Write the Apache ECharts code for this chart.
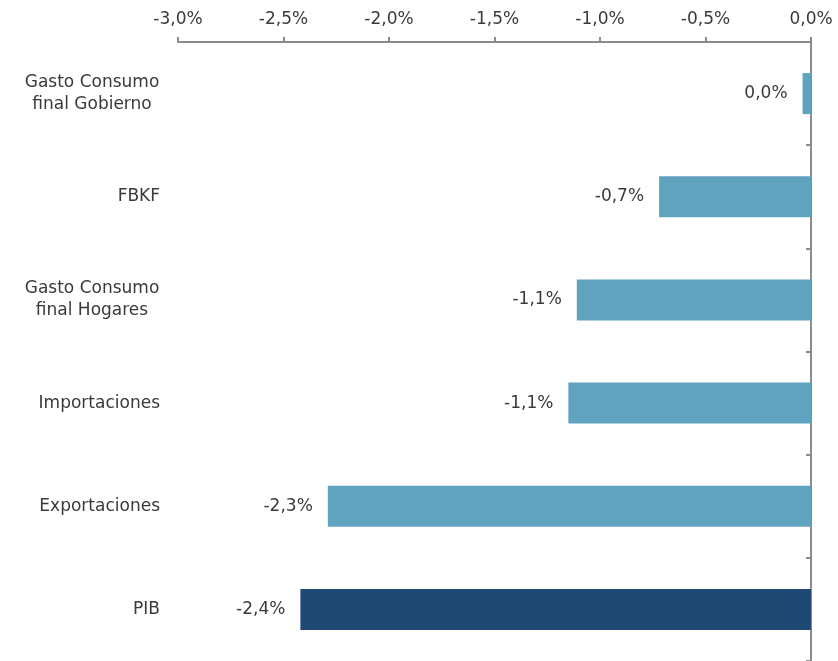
<!DOCTYPE html>
<html>
<head>
<meta charset="utf-8">
<script src="https://cdn.jsdelivr.net/npm/echarts@6/dist/echarts.min.js"></script>
<style>
    html, body { margin: 0; padding: 0; background: #fff; }
    #chart { width: 838px; height: 661px; }
</style>
</head>
<body>
<div id="chart"></div>
<script>
// componentes del PIB (de arriba a abajo)
var categorias = ['Gasto Consumo\nfinal Gobierno', 'FBKF', 'Gasto Consumo\nfinal Hogares', 'Importaciones', 'Exportaciones', 'PIB'];
var valores = [-0.04, -0.72, -1.11, -1.15, -2.29, -2.42];
var colores = ['#5fa3bf', '#5fa3bf', '#5fa3bf', '#5fa3bf', '#5fa3bf', '#1f4873'];

function pct(v) {
    var r = Math.round(v * 10) / 10;
    return r.toFixed(1).replace('.', ',') + '%';
}

var myChart = echarts.init(document.getElementById('chart'));

var font = 'DejaVu Sans';
var txt = '#3a3a3a';
var option = {
    animation: false,
    grid: {
        left: 178,
        right: 27,
        top: 42,
        bottom: -1
    },
    xAxis: {
        type: 'value',
        position: 'top',
        min: -3,
        max: 0,
        interval: 0.5,
        splitLine: { show: false },
        axisLine: { show: true, lineStyle: { color: '#8c8c8c', width: 2 } },
        axisTick: { show: true, length: 5, lineStyle: { color: '#8c8c8c', width: 2 } },
        axisLabel: {
            margin: 14,
            color: txt,
            fontFamily: font,
            fontSize: 17,
            formatter: function (v) { return pct(v); }
        }
    },
    yAxis: [
        {
            type: 'category',
            inverse: true,
            data: categorias,
            position: 'left',
            axisLine: { show: false },
            axisTick: { show: false },
            axisLabel: {
                margin: 18,
                color: txt,
                fontFamily: font,
                fontSize: 17,
                lineHeight: 22,
                align: 'right',
                // lineas centradas entre si en las etiquetas de dos lineas
                formatter: function (v) {
                    if (v.indexOf('\n') < 0) return v;
                    return v.split('\n').map(function (s) { return '{c|' + s + '}'; }).join('\n');
                },
                rich: {
                    c: {
                        width: 136,
                        align: 'center',
                        color: txt,
                        fontFamily: font,
                        fontSize: 17,
                        lineHeight: 22
                    }
                }
            }
        },
        {
            type: 'category',
            inverse: true,
            data: categorias,
            position: 'right',
            axisLine: { show: true, lineStyle: { color: '#8c8c8c', width: 2 } },
            axisTick: { show: true, inside: true, length: 5, lineStyle: { color: '#8c8c8c', width: 2 } },
            axisLabel: { show: false }
        }
    ],
    series: [
        {
            type: 'bar',
            yAxisIndex: 0,
            barWidth: 41,
            data: valores.map(function (v, i) {
                return { value: v, itemStyle: { color: colores[i] } };
            }),
            label: {
                show: true,
                position: 'left',
                distance: 15,
                color: txt,
                fontFamily: font,
                fontSize: 17,
                formatter: function (p) { return pct(p.value); }
            }
        }
    ]
};

myChart.setOption(option, true);
</script>
</body>
</html>
